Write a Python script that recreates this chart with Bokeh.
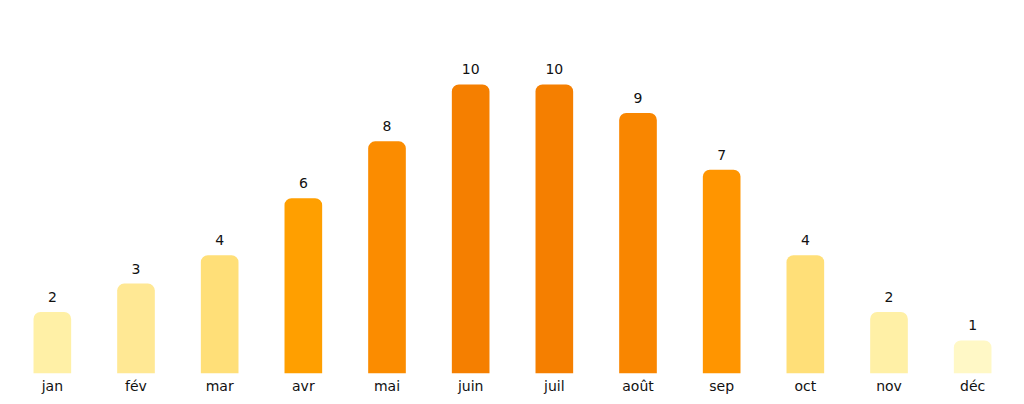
from bokeh.plotting import figure
from bokeh.models import ColumnDataSource, Range1d, LabelSet
from bokeh.core.properties import value
from bokeh.embed import file_html
from bokeh.resources import INLINE

months = ["jan", "fév", "mar", "avr", "mai", "juin", "juil", "août", "sep", "oct", "nov", "déc"]
values = [2, 3, 4, 6, 8, 10, 10, 9, 7, 4, 2, 1]
colors = ["#FFF0A6", "#FFE894", "#FFDF78", "#FF9F00", "#FB8C00", "#F57F00",
          "#F57F00", "#F98600", "#FF9500", "#FFDF78", "#FFF0A6", "#FFF8C6"]
labels = [str(v) for v in values]

src = ColumnDataSource(dict(x=months, top=values, color=colors, label=labels))

p = figure(x_range=months, y_range=Range1d(-0.16, 12.67), width=1024, height=403,
           output_backend="svg", toolbar_location=None,
           min_border_left=10, min_border_right=10, min_border_top=8,
           min_border_bottom=30)
p.outline_line_color = None
p.background_fill_color = "white"
p.border_fill_color = "white"

p.vbar(x="x", top="top", bottom=-0.16, width=0.45, color="color", source=src,
       line_color=None, border_radius=[7, 7, 0, 0])

lbl = LabelSet(x="x", y="top", text="label", source=src, y_offset=10,
               text_align="center", text_baseline="bottom",
               text_font=value("DejaVu Sans"), text_font_size="14px", text_color="#111111")
p.add_layout(lbl)

p.yaxis.visible = False
p.xgrid.visible = False
p.ygrid.visible = False
p.xaxis.axis_line_color = None
p.xaxis.major_tick_line_color = None
p.xaxis.minor_tick_line_color = None
p.xaxis.major_tick_out = 0
p.xaxis.major_tick_in = 0
p.xaxis.minor_tick_out = 0
p.xaxis.major_label_standoff = 4
p.xaxis.major_label_text_font = "DejaVu Sans"
p.xaxis.major_label_text_font_size = "14px"
p.xaxis.major_label_text_color = "#111111"

open("out.html", "w").write(file_html(p, INLINE))
